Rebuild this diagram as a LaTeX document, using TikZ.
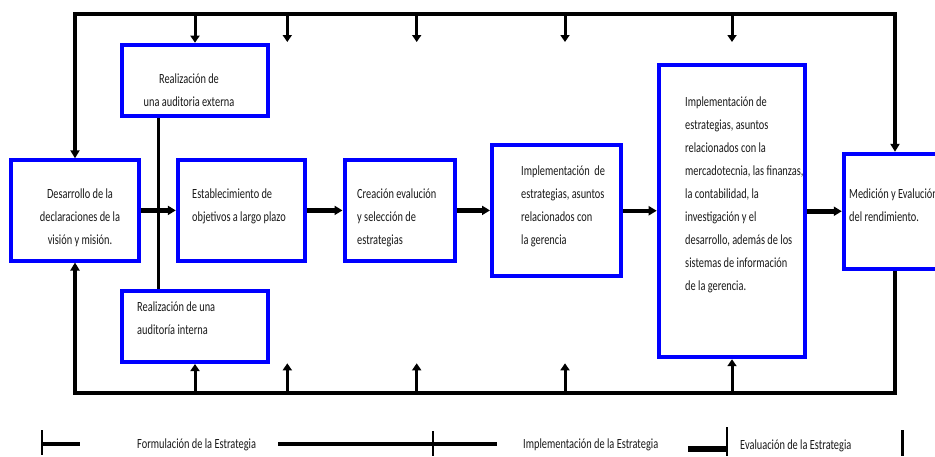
\documentclass[tikz,border=0pt]{standalone}
\usepackage{fontspec}
\setmainfont{Carlito}[FakeStretch=0.74]
\usetikzlibrary{arrows.meta}
\definecolor{boxblue}{RGB}{0,0,255}
% multi-line labels, first baseline on the anchor
\newcommand{\lefttext}[1]{\parbox[t]{170pt}{\raggedright #1}}
\newcommand{\midtext}[1]{\parbox[t]{170pt}{\centering #1}}
\begin{document}
\begin{tikzpicture}[x=1pt,y=-1pt,
  box/.style={draw=boxblue, line width=4pt, fill=white, inner sep=0pt},
  txt/.style={inner sep=0pt, text=black!90, font=\fontsize{14}{23}\selectfont, anchor=base west},
  ctxt/.style={txt, anchor=base},
  frame/.style={line width=4pt},
  stem/.style={line width=3pt},
  flow/.style={line width=4.5pt, -{Triangle[length=8pt,width=9pt]}},
  tip/.style={-{Triangle[length=7pt,width=9pt]}},
  bar/.style={line width=2.5pt},
  seg/.style={line width=4pt}
]
\useasboundingbox (0,0) rectangle (935,456);

% process boxes
\node[box, minimum width=146pt,   minimum height=71.3pt]  (ext) at (195,80.35)   {};
\node[box, minimum width=128pt,   minimum height=100.2pt] (dev) at (74.7,210.4)  {};
\node[box, minimum width=126.9pt, minimum height=100.2pt] (est) at (241.25,210.4){};
\node[box, minimum width=146pt,   minimum height=71.5pt]  (int) at (195,326.25)  {};
\node[box, minimum width=110pt,   minimum height=100.2pt] (cre) at (399.5,210.4) {};
\node[box, minimum width=129.3pt, minimum height=130.9pt] (imp) at (556.65,210.75){};
\node[box, minimum width=146.6pt, minimum height=291.9pt] (big) at (732,211.25)  {};
\node[box, minimum width=102.4pt, minimum height=115pt]   (med) at (895,211.3)   {};

% box texts
\node[ctxt] (extT) at (189,83.5) {\midtext{Realización de\\una auditoria externa}};
\node[ctxt] (devT) at (80,198) {\midtext{Desarrollo de la\\declaraciones de la\\visión y misión.}};
\node[txt] (estT) at (192,198) {\lefttext{Establecimiento de\\objetivos a largo plazo}};
\node[txt] (intT) at (137,311.5) {\lefttext{Realización de una\\auditoría interna}};
\node[txt] (creT) at (357,198) {\lefttext{Creación evalución\\y selección de\\estrategias}};
\node[txt] (impT) at (521,175) {\lefttext{Implementación~ de\\estrategias, asuntos\\relacionados con\\la gerencia}};
\node[txt] (bigT) at (685,106) {\lefttext{Implementación de\\estrategias, asuntos\\relacionados con la\\mercadotecnia, las finanzas,\\la contabilidad, la\\investigación y el\\desarrollo, además de los\\sistemas de información\\de la gerencia.}};
\node[txt] (medT) at (849,198) {\lefttext{Medición y Evalución\\del rendimiento.}};

% main flow
\draw[flow] (dev.east) -- (dev.east -| est.west);
\draw[flow] (est.east) -- (est.east -| cre.west);
\draw[flow] (cre.east) -- (cre.east -| imp.west);
\draw[flow] (imp.east) -- (imp.east -| big.west);
\draw[flow] (big.east) -- (big.east -| med.west);

% link between the two audits
\coordinate (vx) at (158.3,200);
\draw[stem] (vx |- ext.south) -- (vx |- int.north);

% feedback frame
\coordinate (tl) at (75,14);
\coordinate (tr) at (895,14);
\coordinate (bl) at (75,392.5);
\coordinate (br) at (895,392.5);
\draw[frame, {Triangle[length=8pt,width=9pt]}-{Triangle[length=8pt,width=9pt]}]
  (tl |- dev.north) -- (tl) -- (tr) -- (tr |- med.north);
\draw[frame, -{Triangle[length=8pt,width=9pt]}]
  (br |- med.south) -- (br) -- (bl) -- (bl |- dev.south);

% feedback taps from the top line
\coordinate (d2) at (287.3,42);
\coordinate (d3) at (416.7,42);
\coordinate (d4) at (565,42);
\coordinate (d5) at (732,42);
\draw[stem, tip] (tl -| ext.north) -- (ext.north);
\foreach \p in {d2,d3,d4,d5} \draw[stem, tip] (tl -| \p) -- (\p);

% feedback taps from the bottom line
\coordinate (u2) at (287.3,363.3);
\coordinate (u3) at (416.7,363.3);
\coordinate (u4) at (565,363.3);
\draw[stem, tip] (bl -| int.south) -- (int.south);
\foreach \p in {u2,u3,u4} \draw[stem, tip] (bl -| \p) -- (\p);
\draw[stem, tip] (bl -| big.south) -- (big.south);

% stage timeline
\draw[bar] (42,430) -- (42,455);
\draw[seg] (42,444) -- (80,444);
\node[txt] (fT) at (137,448.5) {Formulación de la Estrategia};
\draw[seg] (278,444) -- (497,444);
\draw[line width=2pt] (433,431) -- (433,456);
\node[txt] (iT) at (523,448.5) {Implementación de la Estrategia};
\draw[line width=5.5pt] (688,449) -- (727,449);
\draw[bar] (727,427) -- (727,456);
\node[txt] (eT) at (740,449) {Evaluación de la Estrategia};
\draw[line width=3pt] (902,430) -- (902,456);
\end{tikzpicture}
\end{document}
